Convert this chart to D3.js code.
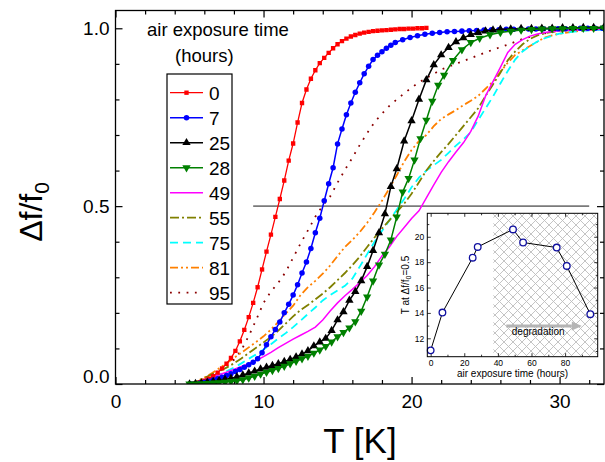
<!DOCTYPE html>
<html>
<head>
<meta charset="utf-8">
<script src="https://cdn.jsdelivr.net/npm/d3@7"></script>
<style>
  body { margin: 0; background: #fff; }
  svg { display: block; }
  text { font-family: "Liberation Sans", Arial, sans-serif; fill: #000; }
</style>
</head>
<body>
<svg id="chart" width="605" height="462"></svg>
<script>
// ---- series: temperature (K) and normalised frequency shift Δf/f0 ----
const hoursLabels = ["0", "7", "25", "28", "49", "55", "75", "81", "95"];

const temp0h = [5.1,5.4,5.7,6.0,6.3,6.6,6.9,7.2,7.5,7.8,8.1,8.4,8.7,9.0,9.3,9.6,9.9,10.2,10.5,10.8,
  11.1,11.4,11.7,12.0,12.3,12.6,12.9,13.2,13.5,13.8,14.1,14.4,14.7,15.0,15.3,15.6,15.9,16.2,16.5,16.8,
  17.1,17.4,17.7,18.0,18.3,18.6,18.9,19.2,19.5,19.8,20.1,20.4,20.7,21.0];
const frac0h = [0.000,0.002,0.005,0.009,0.015,0.022,0.032,0.044,0.057,0.073,0.093,0.120,0.152,0.188,0.228,0.272,0.322,0.372,0.420,0.470,
  0.520,0.572,0.628,0.676,0.735,0.790,0.828,0.858,0.882,0.902,0.917,0.931,0.944,0.955,0.964,0.971,0.977,0.981,0.985,0.988,
  0.990,0.992,0.993,0.994,0.995,0.996,0.997,0.998,0.998,0.999,0.999,1.000,1.000,1.001];

const temp7h = [5.1,5.4,5.7,6.0,6.3,6.6,6.9,7.2,7.5,7.8,8.1,8.4,8.7,9.0,9.3,9.6,9.9,10.2,10.5,10.8,
  11.1,11.4,11.7,12.0,12.3,12.6,12.9,13.2,13.5,13.8,14.1,14.4,14.7,15.0,15.3,15.6,15.9,16.2,16.5,16.8,
  17.1,17.4,17.7,18.0,18.3,18.6,18.9,19.4,19.9,20.4,20.9,21.4,21.9,22.4,22.9,23.4,23.9,24.4,24.9,25.4,
  25.9,26.4,26.9,27.4,27.9,28.4,28.9,29.4,29.9,30.4,30.9,31.4,31.9,32.4,32.9];
const frac7h = [0.000,0.001,0.003,0.005,0.008,0.011,0.015,0.019,0.024,0.029,0.035,0.041,0.047,0.054,0.061,0.071,0.088,0.110,0.133,0.153,
  0.174,0.200,0.224,0.250,0.279,0.312,0.343,0.381,0.425,0.466,0.515,0.563,0.608,0.675,0.717,0.757,0.790,0.820,0.847,0.872,
  0.893,0.912,0.924,0.934,0.944,0.952,0.960,0.968,0.974,0.979,0.983,0.986,0.988,0.990,0.991,0.992,0.993,0.994,0.995,0.996,
  0.996,0.997,0.997,0.998,0.998,0.998,0.999,0.999,0.999,0.999,1.000,1.000,1.000,1.000,1.000];

const temp25h = [5.0,5.4,5.8,6.2,6.6,7.0,7.4,7.8,8.2,8.6,9.0,9.4,9.8,10.2,10.6,11.0,11.4,11.8,12.2,12.6,
  13.0,13.4,13.8,14.2,14.6,15.0,15.4,15.8,16.2,16.6,17.0,17.4,17.8,18.2,18.6,19.0,19.5,20.0,20.5,21.0,
  21.5,22.0,22.5,23.0,23.5,24.0,24.5,25.0,25.5,26.0,26.7,27.4,28.1,28.8,29.5,30.2,30.9,31.6,32.3,33.0];
const frac25h = [0.000,0.001,0.003,0.005,0.007,0.010,0.013,0.016,0.020,0.025,0.031,0.036,0.042,0.047,0.052,0.057,0.063,0.069,0.076,0.084,
  0.093,0.107,0.118,0.128,0.150,0.180,0.203,0.235,0.260,0.290,0.330,0.375,0.425,0.478,0.555,0.605,0.683,0.740,0.800,0.855,
  0.897,0.925,0.946,0.962,0.973,0.982,0.988,0.992,0.995,0.997,0.998,0.999,0.999,1.000,1.000,1.001,1.001,1.002,1.002,1.003];

const temp28h = [5.0,5.4,5.8,6.2,6.6,7.0,7.4,7.8,8.2,8.6,9.0,9.4,9.8,10.2,10.6,11.0,11.4,11.8,12.2,12.6,
  13.0,13.4,13.8,14.2,14.6,15.0,15.4,15.8,16.2,16.6,17.0,17.4,17.8,18.2,18.6,19.0,19.4,19.8,20.2,20.6,
  21.0,21.4,21.8,22.2,22.8,23.4,24.0,24.6,25.3,26.0,26.7,27.4,28.1,28.8,29.5,30.2,30.9,31.6,32.3,33.0];
const frac28h = [0.000,0.000,0.001,0.002,0.003,0.004,0.005,0.007,0.009,0.012,0.017,0.022,0.028,0.033,0.038,0.044,0.050,0.057,0.064,0.071,
  0.078,0.087,0.096,0.106,0.118,0.133,0.145,0.158,0.175,0.205,0.245,0.290,0.335,0.365,0.405,0.470,0.540,0.578,0.630,0.690,
  0.742,0.795,0.840,0.868,0.910,0.940,0.960,0.972,0.982,0.988,0.992,0.995,0.997,0.998,0.999,0.999,1.000,1.000,1.000,1.001];

const temp49h = [5.0,5.5,6.0,6.5,7.0,7.5,8.0,8.5,9.0,9.5,10.0,10.5,11.0,11.5,12.0,12.5,13.0,13.5,14.0,14.5,
  15.0,15.5,16.0,16.5,17.0,17.5,18.0,18.5,19.0,19.5,20.0,20.5,21.0,21.5,22.0,22.5,23.0,23.5,24.0,24.5,
  25.0,25.5,26.0,26.5,27.0,27.5,28.0,28.5,29.0,29.5,30.0,31.0,32.0,33.0];
const frac49h = [0.000,0.006,0.012,0.019,0.026,0.033,0.041,0.049,0.058,0.066,0.077,0.089,0.102,0.114,0.126,0.137,0.148,0.160,0.180,0.205,
  0.228,0.248,0.266,0.285,0.305,0.330,0.360,0.385,0.415,0.440,0.465,0.487,0.523,0.560,0.595,0.625,0.652,0.678,0.710,0.753,
  0.810,0.850,0.890,0.932,0.955,0.968,0.978,0.984,0.988,0.991,0.993,0.995,0.996,0.997];

const temp55h = temp49h;
const frac55h = [0.000,0.008,0.017,0.027,0.036,0.046,0.058,0.072,0.087,0.102,0.117,0.132,0.150,0.170,0.190,0.208,0.222,0.238,0.254,0.272,
  0.292,0.312,0.334,0.358,0.385,0.412,0.437,0.460,0.483,0.507,0.535,0.567,0.600,0.627,0.652,0.675,0.700,0.725,0.750,0.775,
  0.810,0.842,0.875,0.910,0.935,0.955,0.970,0.980,0.986,0.990,0.993,0.996,0.997,0.998];

const temp75h = temp49h;
const frac75h = [0.000,0.005,0.011,0.018,0.026,0.036,0.046,0.058,0.071,0.083,0.097,0.112,0.128,0.143,0.160,0.178,0.197,0.215,0.235,0.250,
  0.263,0.276,0.296,0.330,0.365,0.400,0.430,0.460,0.490,0.520,0.553,0.580,0.600,0.615,0.630,0.650,0.670,0.688,0.708,0.742,
  0.775,0.808,0.845,0.880,0.912,0.935,0.950,0.963,0.972,0.979,0.985,0.991,0.994,0.996];

const temp81h = temp49h;
const frac81h = [0.000,0.008,0.018,0.030,0.044,0.058,0.073,0.088,0.103,0.118,0.134,0.153,0.175,0.198,0.220,0.250,0.272,0.290,0.310,0.333,
  0.360,0.385,0.405,0.427,0.453,0.483,0.515,0.550,0.587,0.625,0.658,0.683,0.700,0.725,0.745,0.758,0.770,0.784,0.796,0.810,
  0.830,0.850,0.878,0.903,0.925,0.938,0.950,0.962,0.974,0.980,0.985,0.991,0.995,0.997];

const temp95h = temp49h;
const frac95h = [0.000,0.006,0.014,0.025,0.037,0.052,0.068,0.095,0.135,0.180,0.228,0.260,0.285,0.315,0.355,0.395,0.432,0.470,0.502,0.527,
  0.566,0.602,0.636,0.672,0.705,0.736,0.760,0.782,0.800,0.817,0.833,0.848,0.860,0.872,0.884,0.892,0.900,0.908,0.916,0.924,
  0.932,0.940,0.947,0.954,0.962,0.970,0.976,0.981,0.986,0.990,0.993,0.996,0.998,0.999];

// ---- inset: temperature at Δf/f0 = 0.5 versus air exposure time ----
const exposureHours = [0, 7, 25, 28, 49, 55, 75, 81, 95];
const tHalf = [11.05, 14.03, 18.35, 19.2, 20.58, 19.55, 19.15, 17.7, 13.9];

// ---- axis ticks ----
const xMajorTicks = [0, 10, 20, 30];
const xMinorTicks = [2, 4, 6, 8, 12, 14, 16, 18, 22, 24, 26, 28, 32];
const yMajorTicks = [0.0, 0.5, 1.0];
const yMinorTicks = [0.1, 0.2, 0.3, 0.4, 0.6, 0.7, 0.8, 0.9];
const insetXMajor = [0, 20, 40, 60, 80];
const insetXMinor = [10, 30, 50, 70, 90];
const insetYMajor = [12, 14, 16, 18, 20];
const insetYMinor = [11, 13, 15, 17, 19, 21];

// ---- styling per series ----
const seriesDefs = [
  { label: hoursLabels[0], t: temp0h,  f: frac0h,  color: "#ff0000", width: 1.3, dash: null, marker: "square" },
  { label: hoursLabels[1], t: temp7h,  f: frac7h,  color: "#0000ff", width: 1.5, dash: null, marker: "circle" },
  { label: hoursLabels[2], t: temp25h, f: frac25h, color: "#000000", width: 1.5, dash: null, marker: "triUp" },
  { label: hoursLabels[3], t: temp28h, f: frac28h, color: "#008000", width: 1.5, dash: null, marker: "triDown" },
  { label: hoursLabels[4], t: temp49h, f: frac49h, color: "#ff00ff", width: 1.5, dash: null, marker: null },
  { label: hoursLabels[5], t: temp55h, f: frac55h, color: "#808000", width: 1.8, dash: "9,3,2,3", marker: null },
  { label: hoursLabels[6], t: temp75h, f: frac75h, color: "#00ffff", width: 1.8, dash: "8,5", marker: null },
  { label: hoursLabels[7], t: temp81h, f: frac81h, color: "#ff8000", width: 1.8, dash: "8,3,2,3,2,3", marker: null },
  { label: hoursLabels[8], t: temp95h, f: frac95h, color: "#8b0000", width: 1.8, dash: "1.8,6.5", marker: null }
];

const svg = d3.select("#chart");
const plot = { l: 115.5, r: 604, t: 10.5, b: 384 };

const x = d3.scaleLinear().domain([0, 33]).range([plot.l, plot.r]);
const y = d3.scaleLinear().domain([0, 1.05]).range([plot.b, plot.t]);

const defs = svg.append("defs");
defs.append("clipPath").attr("id", "plotClip")
  .append("rect").attr("x", plot.l).attr("y", plot.t)
  .attr("width", plot.r - plot.l).attr("height", plot.b - plot.t);

// ---- axes: ticks point inwards on all four sides ----
const tickFont = 19;
function styleAxis(g) {
  g.select(".domain").remove();
  g.selectAll(".tick line").attr("stroke", "#000").attr("stroke-width", 1.2);
  g.selectAll("text").attr("font-size", tickFont).attr("font-family", "Liberation Sans, Arial, sans-serif");
}

svg.append("g").attr("transform", `translate(0,${plot.b})`)
  .call(d3.axisBottom(x).tickValues(xMajorTicks).tickSize(-7).tickPadding(11).tickFormat(d3.format("d")))
  .call(styleAxis);
svg.append("g").attr("transform", `translate(0,${plot.b})`)
  .call(d3.axisBottom(x).tickValues(xMinorTicks).tickSize(-4).tickFormat(""))
  .call(styleAxis);
svg.append("g").attr("transform", `translate(0,${plot.t})`)
  .call(d3.axisTop(x).tickValues(xMajorTicks).tickSize(-7).tickFormat(""))
  .call(styleAxis);
svg.append("g").attr("transform", `translate(0,${plot.t})`)
  .call(d3.axisTop(x).tickValues(xMinorTicks).tickSize(-4).tickFormat(""))
  .call(styleAxis);

const yAxisG = svg.append("g").attr("transform", `translate(${plot.l},0)`)
  .call(d3.axisLeft(y).tickValues(yMajorTicks).tickSize(-7).tickPadding(6).tickFormat(d3.format(".1f")))
  .call(styleAxis);
// lift the 0.0 label clear of the x-axis 0
yAxisG.selectAll(".tick").filter(d => d === 0).select("text").attr("y", -8);
svg.append("g").attr("transform", `translate(${plot.l},0)`)
  .call(d3.axisLeft(y).tickValues(yMinorTicks).tickSize(-4).tickFormat(""))
  .call(styleAxis);
svg.append("g").attr("transform", `translate(${plot.r},0)`)
  .call(d3.axisRight(y).tickValues(yMajorTicks).tickSize(-7).tickFormat(""))
  .call(styleAxis);
svg.append("g").attr("transform", `translate(${plot.r},0)`)
  .call(d3.axisRight(y).tickValues(yMinorTicks).tickSize(-4).tickFormat(""))
  .call(styleAxis);

// ---- reference line at Δf/f0 = 0.5 ----
const halfLine = [[9.3, 0.5], [32.0, 0.5]];
svg.append("path")
  .attr("d", d3.line().x(d => x(d[0])).y(d => y(d[1]))(halfLine))
  .attr("stroke", "#7a7a7a").attr("stroke-width", 1.6).attr("fill", "none");

// ---- curves ----
const symbolFor = {
  square: d3.symbol().type(d3.symbolSquare).size(19),
  circle: d3.symbol().type(d3.symbolCircle).size(24),
  triUp: d3.symbol().type(d3.symbolTriangle).size(30),
  triDown: d3.symbol().type(d3.symbolTriangle).size(30)
};
const lineGen = d3.line().x(d => x(d[0])).y(d => y(d[1]));
const curves = svg.append("g").attr("clip-path", "url(#plotClip)");

// dashed curves underneath, marker curves on top
const drawOrder = [8, 7, 6, 5, 4, 0, 1, 2, 3];
drawOrder.forEach(i => {
  const s = seriesDefs[i];
  const pts = s.t.map((tv, k) => [tv, s.f[k]]);
  const g = curves.append("g");
  g.append("path").attr("d", lineGen(pts))
    .attr("fill", "none").attr("stroke", s.color).attr("stroke-width", s.width)
    .attr("stroke-dasharray", s.dash);
  if (s.marker) {
    g.selectAll("path.m").data(pts).join("path").attr("class", "m")
      .attr("d", symbolFor[s.marker])
      .attr("transform", d => `translate(${x(d[0])},${y(d[1])})` + (s.marker === "triDown" ? " rotate(180)" : ""))
      .attr("fill", s.color);
  }
});

// ---- frame ----
svg.append("rect").attr("x", plot.l).attr("y", plot.t)
  .attr("width", plot.r - plot.l).attr("height", plot.b - plot.t)
  .attr("fill", "none").attr("stroke", "#000").attr("stroke-width", 1.3);

// ---- axis titles ----
svg.append("text").attr("x", 360).attr("y", 453).attr("text-anchor", "middle")
  .attr("font-size", 35).text("T [K]");
const yTitle = svg.append("text").attr("transform", "translate(42,212) rotate(-90)")
  .attr("text-anchor", "middle").attr("font-size", 32);
yTitle.append("tspan").text("Δf/f");
yTitle.append("tspan").attr("font-size", 21).attr("dy", 7).text("0");

// ---- legend ----
svg.append("text").attr("x", 147).attr("y", 36).attr("font-size", 18.5).text("air exposure time");
svg.append("text").attr("x", 175).attr("y", 62).attr("font-size", 18.5).text("(hours)");
svg.append("rect").attr("x", 167).attr("y", 74).attr("width", 65).attr("height", 230)
  .attr("fill", "#fff").attr("stroke", "#000").attr("stroke-width", 1.2);
seriesDefs.forEach((s, i) => {
  const cy = 92.7 + i * 25;
  svg.append("line").attr("x1", 170).attr("x2", 203).attr("y1", cy).attr("y2", cy)
    .attr("stroke", s.color).attr("stroke-width", s.width).attr("stroke-dasharray", s.dash);
  if (s.marker) {
    svg.append("path").attr("d", symbolFor[s.marker])
      .attr("transform", `translate(186.5,${cy})` + (s.marker === "triDown" ? " rotate(180)" : ""))
      .attr("fill", s.color);
  }
  svg.append("text").attr("x", 209).attr("y", cy + 7).attr("font-size", 19).text(s.label);
});

// ---- inset ----
const ib = { l: 427.3, r: 597.7, t: 213.3, b: 356.7 };
const ix = d3.scaleLinear().domain([-2, 99.4]).range([ib.l, ib.r]);
const iy = d3.scaleLinear().domain([10.55, 21.85]).range([ib.b, ib.t]);

svg.append("rect").attr("x", ib.l).attr("y", ib.t).attr("width", ib.r - ib.l).attr("height", ib.b - ib.t)
  .attr("fill", "#fff");

const hatch = defs.append("pattern").attr("id", "xhatch").attr("patternUnits", "userSpaceOnUse")
  .attr("width", 9).attr("height", 9);
hatch.append("path").attr("d", "M0,0L9,9M9,0L0,9M-1,8L1,10M8,-1L10,1M-1,1L1,-1M8,10L10,8")
  .attr("stroke", "#bdbdbd").attr("stroke-width", 0.9).attr("fill", "none");
const degradeStart = 37.3;
svg.append("rect").attr("x", ix(degradeStart)).attr("y", ib.t)
  .attr("width", ib.r - ix(degradeStart)).attr("height", ib.b - ib.t)
  .attr("fill", "url(#xhatch)");

// degradation arrow
const arrowFrom = [45, 12.97], arrowTo = [84, 12.97];
svg.append("line").attr("x1", ix(arrowFrom[0])).attr("x2", ix(arrowTo[0]))
  .attr("y1", iy(arrowFrom[1])).attr("y2", iy(arrowTo[1]))
  .attr("stroke", "#b4b4b4").attr("stroke-width", 3);
{
  const ax = ix(arrowTo[0]), ay = iy(arrowTo[1]);
  svg.append("path").attr("d", `M${ax},${ay - 4.5}L${ax + 10},${ay}L${ax},${ay + 4.5}Z`).attr("fill", "#b4b4b4");
}
svg.append("text").attr("x", ix(64)).attr("y", 335).attr("text-anchor", "middle")
  .attr("font-size", 10).text("degradation");

function styleInsetAxis(g) {
  g.select(".domain").remove();
  g.selectAll(".tick line").attr("stroke", "#000").attr("stroke-width", 0.8);
  g.selectAll("text").attr("font-size", 8.5).attr("fill", "#333");
}
svg.append("g").attr("transform", `translate(0,${ib.b})`)
  .call(d3.axisBottom(ix).tickValues(insetXMajor).tickSize(-3.5).tickPadding(3.3).tickFormat(d3.format("d")))
  .call(styleInsetAxis);
svg.append("g").attr("transform", `translate(0,${ib.b})`)
  .call(d3.axisBottom(ix).tickValues(insetXMinor).tickSize(-2).tickFormat(""))
  .call(styleInsetAxis);
svg.append("g").attr("transform", `translate(0,${ib.t})`)
  .call(d3.axisTop(ix).tickValues(insetXMajor).tickSize(-3.5).tickFormat(""))
  .call(styleInsetAxis);
svg.append("g").attr("transform", `translate(0,${ib.t})`)
  .call(d3.axisTop(ix).tickValues(insetXMinor).tickSize(-2).tickFormat(""))
  .call(styleInsetAxis);
svg.append("g").attr("transform", `translate(${ib.l},0)`)
  .call(d3.axisLeft(iy).tickValues(insetYMajor).tickSize(-3.5).tickPadding(3).tickFormat(d3.format("d")))
  .call(styleInsetAxis);
svg.append("g").attr("transform", `translate(${ib.l},0)`)
  .call(d3.axisLeft(iy).tickValues(insetYMinor).tickSize(-2).tickFormat(""))
  .call(styleInsetAxis);
svg.append("g").attr("transform", `translate(${ib.r},0)`)
  .call(d3.axisRight(iy).tickValues(insetYMajor).tickSize(-3.5).tickFormat(""))
  .call(styleInsetAxis);
svg.append("g").attr("transform", `translate(${ib.r},0)`)
  .call(d3.axisRight(iy).tickValues(insetYMinor).tickSize(-2).tickFormat(""))
  .call(styleInsetAxis);

const insetPts = exposureHours.map((h, k) => [h, tHalf[k]]);
svg.append("path").attr("d", d3.line().x(d => ix(d[0])).y(d => iy(d[1]))(insetPts))
  .attr("fill", "none").attr("stroke", "#000").attr("stroke-width", 1);
svg.selectAll("circle.inset").data(insetPts).join("circle").attr("class", "inset")
  .attr("cx", d => ix(d[0])).attr("cy", d => iy(d[1])).attr("r", 3.3)
  .attr("fill", "#fff").attr("stroke", "#1010a0").attr("stroke-width", 1.3);

svg.append("rect").attr("x", ib.l).attr("y", ib.t).attr("width", ib.r - ib.l).attr("height", ib.b - ib.t)
  .attr("fill", "none").attr("stroke", "#000").attr("stroke-width", 1);

svg.append("text").attr("x", (ib.l + ib.r) / 2).attr("y", 377).attr("text-anchor", "middle")
  .attr("font-size", 10).attr("fill", "#222").text("air exposure time (hours)");
const iyTitle = svg.append("text").attr("transform", `translate(409,${(ib.t + ib.b) / 2}) rotate(-90)`)
  .attr("text-anchor", "middle").attr("font-size", 10).attr("fill", "#222");
iyTitle.append("tspan").text("T at Δf/f");
iyTitle.append("tspan").attr("font-size", 7).attr("dy", 2).text("0");
iyTitle.append("tspan").attr("dy", -2).text("=0.5");
</script>
</body>
</html>
